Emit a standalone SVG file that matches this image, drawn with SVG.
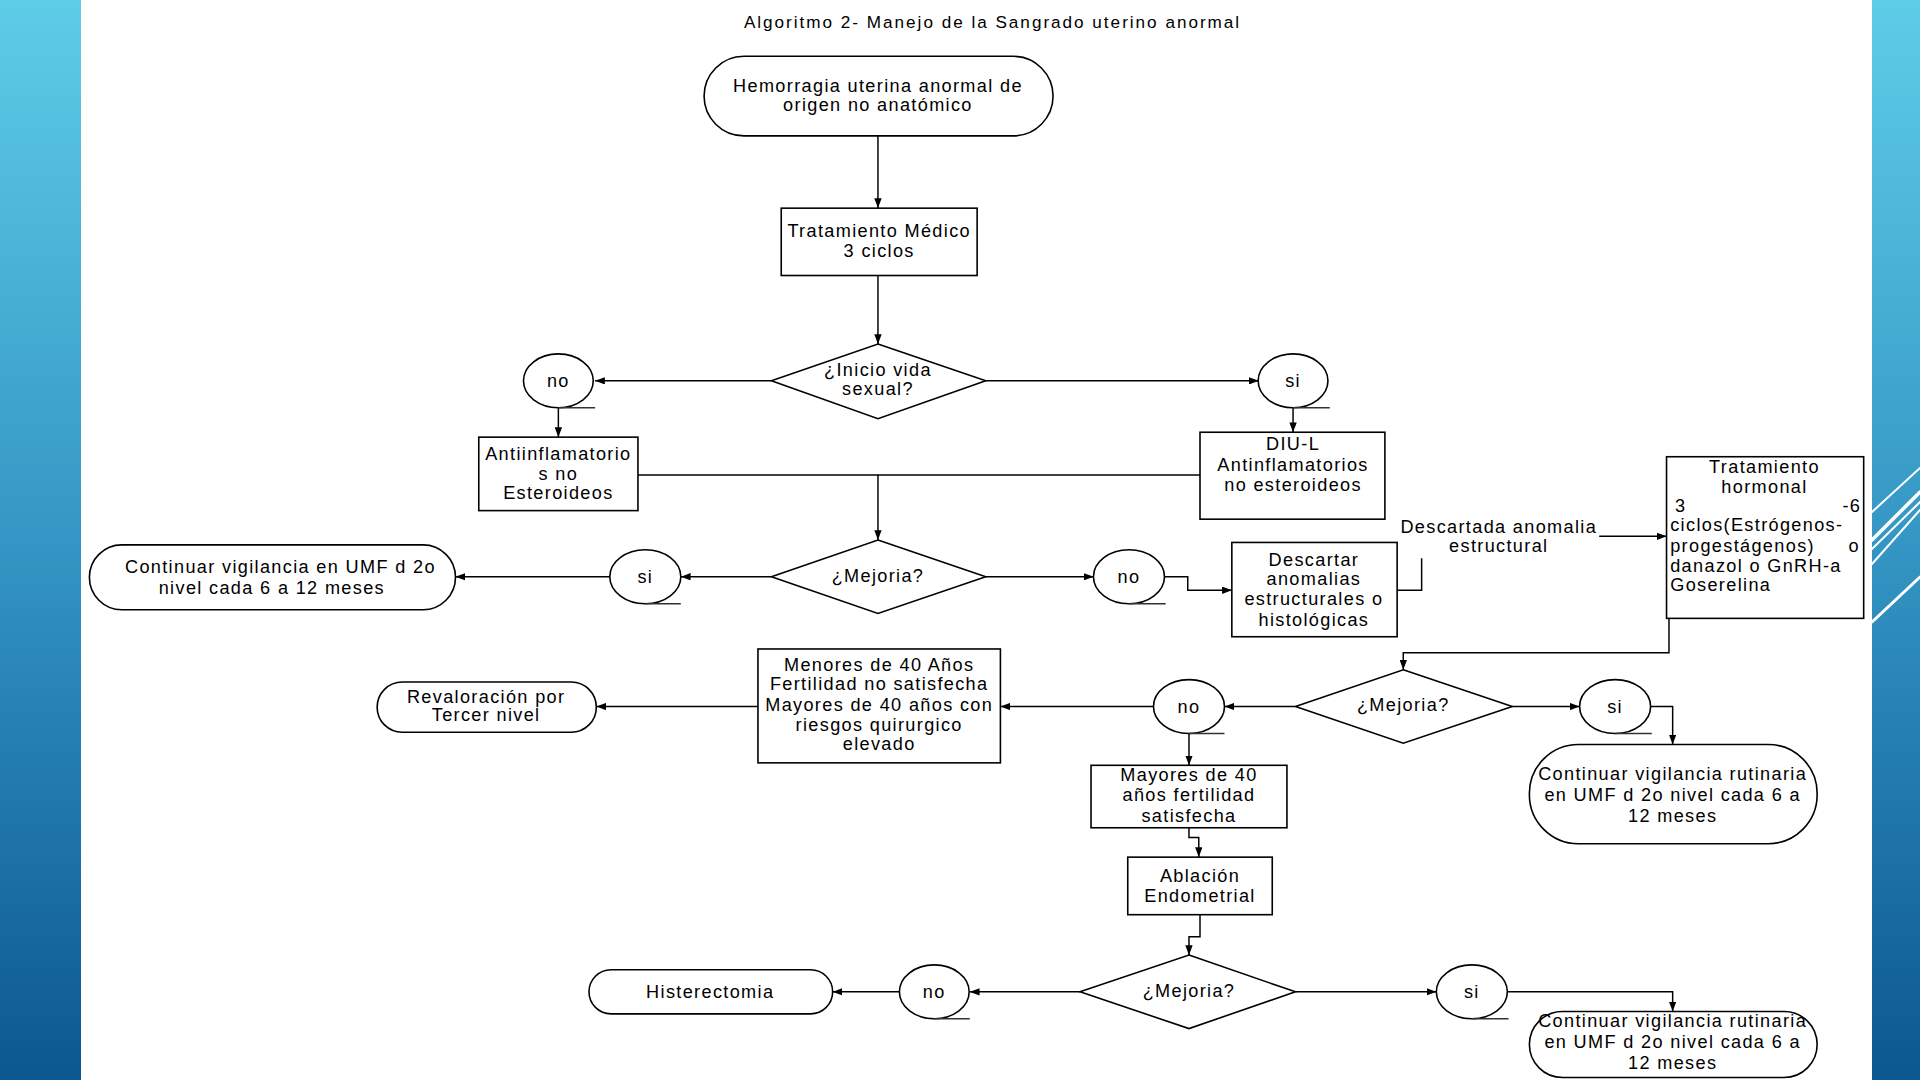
<svg xmlns="http://www.w3.org/2000/svg" width="1920" height="1080" viewBox="0 0 1920 1080">
<defs>
<linearGradient id="band" x1="0" y1="0" x2="0" y2="1">
<stop offset="0" stop-color="#5ecde8"/>
<stop offset="0.5" stop-color="#3496c4"/>
<stop offset="1" stop-color="#0b5790"/>
</linearGradient>
<marker id="ah" viewBox="0 0 8 6" refX="8" refY="3" markerWidth="8" markerHeight="6" orient="auto" markerUnits="userSpaceOnUse">
<path d="M0,0 L8,3 L0,6 z" fill="#000"/>
</marker>
<style>
.sh{fill:#fff;stroke:#000;stroke-width:1.3}
.tl{fill:none;stroke:#333;stroke-width:1.3}
.cn{fill:none;stroke:#000;stroke-width:1.2}
.ar{marker-end:url(#ah)}
text{font-family:"Liberation Sans",Arial,sans-serif;font-size:14.8px;fill:#000;letter-spacing:1.1px}
.c{text-anchor:middle;dominant-baseline:central}
.l{text-anchor:start;dominant-baseline:central}
.r{text-anchor:end;dominant-baseline:central}
</style>
</defs>
<rect width="1920" height="1080" fill="#fff"/>
<rect x="0" y="0" width="81" height="1080" fill="url(#band)"/>
<rect x="1872" y="0" width="48" height="1080" fill="url(#band)"/>
<g stroke="#fff" stroke-linecap="round">
<line x1="1872" y1="512" x2="1920" y2="468" stroke-width="2"/>
<line x1="1872" y1="540" x2="1920" y2="492" stroke-width="3.5"/>
<line x1="1872" y1="549" x2="1920" y2="502" stroke-width="2"/>
<line x1="1872" y1="564" x2="1920" y2="510" stroke-width="2"/>
<line x1="1872" y1="622" x2="1920" y2="577" stroke-width="3"/>
</g>
<g transform="scale(1.22449)">
<text id="title" x="810" y="18" class="c" style="font-size:14px;letter-spacing:0.5px" textLength="405" lengthAdjust="spacing">Algoritmo 2- Manejo de la Sangrado uterino anormal</text>

<g id="connectors">
<path class="cn ar" d="M717,111 V170"/>
<path class="cn ar" d="M717,225 V281"/>
<path class="cn ar" d="M630,311 H486"/>
<path class="cn ar" d="M805,311 H1028"/>
<path class="cn ar" d="M456,333 V357"/>
<path class="cn ar" d="M1056,333 V353"/>
<path class="cn" d="M521,388 H980"/>
<path class="cn ar" d="M717,388 V441"/>
<path class="cn ar" d="M630,471 H556"/>
<path class="cn ar" d="M498,471 H372"/>
<path class="cn ar" d="M805,471 H893"/>
<path class="cn ar" d="M951,471 H970 V482 H1006"/>
<path class="cn" d="M1141,482 H1161 V456"/>
<path class="cn ar" d="M1306,438 H1361"/>
<path class="cn ar" d="M1363,505 V533 H1146 V547"/>
<path class="cn ar" d="M1235,577 H1290"/>
<path class="cn ar" d="M1348,577 H1366 V608"/>
<path class="cn ar" d="M1058,577 H1000"/>
<path class="cn ar" d="M942,577 H817"/>
<path class="cn ar" d="M619,577 H487"/>
<path class="cn ar" d="M971,599 V625"/>
<path class="cn ar" d="M971,676 V684 H979 V700"/>
<path class="cn ar" d="M980,747 V765 H971 V780"/>
<path class="cn ar" d="M882,810 H792"/>
<path class="cn ar" d="M735,810 H680"/>
<path class="cn ar" d="M1058,810 H1173"/>
<path class="cn ar" d="M1231,810 H1366 V826"/>
</g>

<g id="n-start">
<rect class="sh" x="575" y="46" width="285" height="65" rx="32.5"/>
<text class="c" x="717" y="70">Hemorragia uterina anormal de</text>
<text class="c" x="717" y="86">origen no anatómico</text>
</g>
<g id="n-tratamiento">
<rect class="sh" x="638" y="170" width="160" height="55"/>
<text class="c" x="718" y="189">Tratamiento Médico</text>
<text class="c" x="718" y="205">3 ciclos</text>
</g>
<g id="n-inicio">
<polygon class="sh" points="717,281 805,311 717,342 630,311"/>
<text class="c" x="717" y="302">¿Inicio vida</text>
<text class="c" x="717" y="318">sexual?</text>
</g>
<g id="n-no1">
<ellipse class="sh" cx="456" cy="311" rx="28.5" ry="22"/>
<line class="tl" x1="456" y1="333" x2="486" y2="333"/>
<text class="c" x="456" y="311">no</text>
</g>
<g id="n-si1">
<ellipse class="sh" cx="1056" cy="311" rx="28.5" ry="22"/>
<line class="tl" x1="1056" y1="333" x2="1086" y2="333"/>
<text class="c" x="1056" y="311">si</text>
</g>
<g id="n-antiinf">
<rect class="sh" x="391" y="357" width="130" height="60"/>
<text class="c" x="456" y="371">Antiinflamatorio</text>
<text class="c" x="456" y="387">s no</text>
<text class="c" x="456" y="403">Esteroideos</text>
</g>
<g id="n-diu">
<rect class="sh" x="980" y="353" width="151" height="71"/>
<text class="c" x="1056" y="363">DIU-L</text>
<text class="c" x="1056" y="380">Antinflamatorios</text>
<text class="c" x="1056" y="396">no esteroideos</text>
</g>
<g id="n-mejoria1">
<polygon class="sh" points="717,441 805,471 717,501 630,471"/>
<text class="c" x="717" y="470">¿Mejoria?</text>
</g>
<g id="n-si2">
<ellipse class="sh" cx="527" cy="471" rx="29" ry="22"/>
<line class="tl" x1="527" y1="493" x2="556" y2="493"/>
<text class="c" x="527" y="471">si</text>
</g>
<g id="n-continuar1">
<rect class="sh" x="73" y="445" width="299" height="53" rx="26.5"/>
<text class="c" x="229" y="463">Continuar vigilancia  en UMF d 2o</text>
<text class="c" x="222" y="480">nivel cada 6 a 12 meses</text>
</g>
<g id="n-no2">
<ellipse class="sh" cx="922" cy="471" rx="29" ry="22"/>
<line class="tl" x1="922" y1="493" x2="952" y2="493"/>
<text class="c" x="922" y="471">no</text>
</g>
<g id="n-descartar">
<rect class="sh" x="1006" y="443" width="135" height="77"/>
<text class="c" x="1073" y="457">Descartar</text>
<text class="c" x="1073" y="473">anomalias</text>
<text class="c" x="1073" y="489">estructurales o</text>
<text class="c" x="1073" y="506">histológicas</text>
</g>
<g id="l-descartada">
<text class="c" x="1224" y="430">Descartada anomalia</text>
<text class="c" x="1224" y="446">estructural</text>
</g>
<g id="n-hormonal">
<rect class="sh" x="1361" y="373" width="161" height="132"/>
<text class="c" x="1441" y="381">Tratamiento</text>
<text class="c" x="1441" y="398">hormonal</text>
<text class="l" x="1368" y="413">3</text>
<text class="r" x="1520" y="413">-6</text>
<text class="l" x="1364" y="429">ciclos(Estrógenos-</text>
<text class="l" x="1364" y="446">progestágenos)</text>
<text class="r" x="1519" y="446">o</text>
<text class="l" x="1364" y="462">danazol o GnRH-a</text>
<text class="l" x="1364" y="478">Goserelina</text>
</g>
<g id="n-mejoria2">
<polygon class="sh" points="1146,547 1235,577 1146,607 1058,577"/>
<text class="c" x="1146" y="576">¿Mejoria?</text>
</g>
<g id="n-si3">
<ellipse class="sh" cx="1319" cy="577" rx="29" ry="22"/>
<line class="tl" x1="1319" y1="599" x2="1349" y2="599"/>
<text class="c" x="1319" y="577">si</text>
</g>
<g id="n-continuar2">
<rect class="sh" x="1249" y="608" width="235" height="81" rx="40"/>
<text class="c" x="1366" y="632">Continuar vigilancia rutinaria</text>
<text class="c" x="1366" y="649">en UMF d 2o nivel cada 6 a</text>
<text class="c" x="1366" y="666">12 meses</text>
</g>
<g id="n-no3">
<ellipse class="sh" cx="971" cy="577" rx="29" ry="22"/>
<line class="tl" x1="971" y1="599" x2="1000" y2="599"/>
<text class="c" x="971" y="577">no</text>
</g>
<g id="n-menores">
<rect class="sh" x="619" y="530" width="198" height="93"/>
<text class="c" x="718" y="543">Menores de 40 Años</text>
<text class="c" x="718" y="559">Fertilidad no satisfecha</text>
<text class="c" x="718" y="576">Mayores de 40 años con</text>
<text class="c" x="718" y="592">riesgos quirurgico</text>
<text class="c" x="718" y="608">elevado</text>
</g>
<g id="n-revaloracion">
<rect class="sh" x="308" y="557" width="179" height="41" rx="20.5"/>
<text class="c" x="397" y="569">Revaloración por</text>
<text class="c" x="397" y="584">Tercer nivel</text>
</g>
<g id="n-mayores">
<rect class="sh" x="891" y="625" width="160" height="51"/>
<text class="c" x="971" y="633">Mayores de 40</text>
<text class="c" x="971" y="649">años fertilidad</text>
<text class="c" x="971" y="666">satisfecha</text>
</g>
<g id="n-ablacion">
<rect class="sh" x="921" y="700" width="118" height="47"/>
<text class="c" x="980" y="715">Ablación</text>
<text class="c" x="980" y="732">Endometrial</text>
</g>
<g id="n-mejoria3">
<polygon class="sh" points="971,780 1058,810 971,840 882,810"/>
<text class="c" x="971" y="809">¿Mejoria?</text>
</g>
<g id="n-no4">
<ellipse class="sh" cx="763" cy="810" rx="28.5" ry="22"/>
<line class="tl" x1="763" y1="832" x2="792" y2="832"/>
<text class="c" x="763" y="810">no</text>
</g>
<g id="n-histerectomia">
<rect class="sh" x="481" y="792" width="199" height="36" rx="18"/>
<text class="c" x="580" y="810">Histerectomia</text>
</g>
<g id="n-si4">
<ellipse class="sh" cx="1202" cy="810" rx="29" ry="22"/>
<line class="tl" x1="1202" y1="832" x2="1232" y2="832"/>
<text class="c" x="1202" y="810">si</text>
</g>
<g id="n-continuar3">
<rect class="sh" x="1249" y="826" width="235" height="54" rx="27"/>
<text class="c" x="1366" y="834">Continuar vigilancia rutinaria</text>
<text class="c" x="1366" y="851">en UMF d 2o nivel cada 6 a</text>
<text class="c" x="1366" y="868">12 meses</text>
</g>
</g>
</svg>
